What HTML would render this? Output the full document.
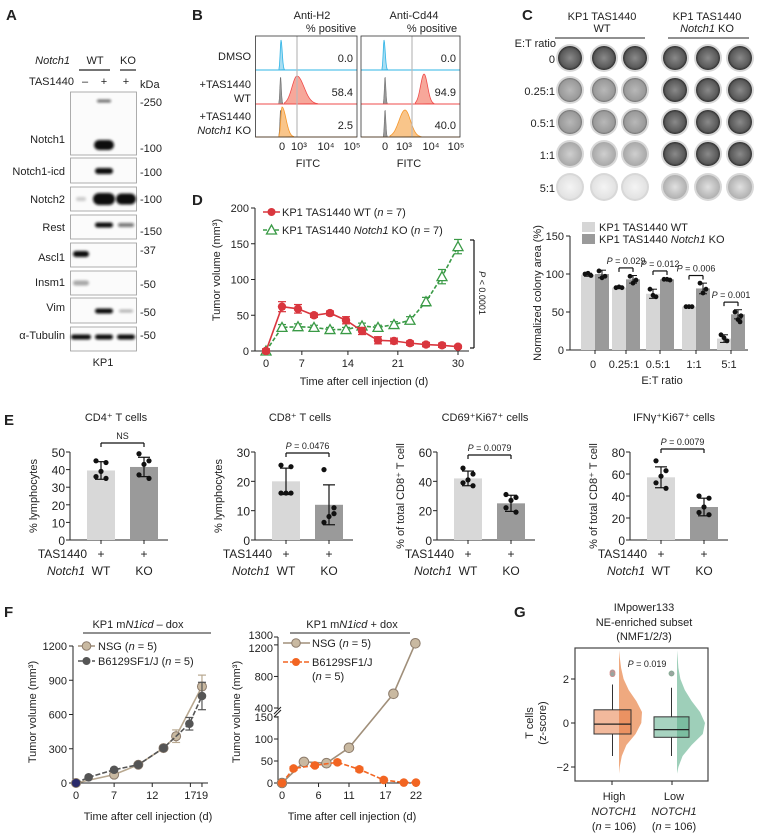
<!DOCTYPE html>
<html><head><meta charset="utf-8"><style>
html,body{margin:0;padding:0;background:#fff}
svg{display:block;font-family:"Liberation Sans",Arial,sans-serif}
</style></head><body>
<svg id="fig" width="764" height="840" viewBox="0 0 764 840" xmlns="http://www.w3.org/2000/svg">
<defs>
<filter id="blur1" x="-50%" y="-100%" width="200%" height="300%"><feGaussianBlur stdDeviation="1.2"/></filter>
<radialGradient id="wellDark" cx="50%" cy="50%" r="50%"><stop offset="0" stop-color="#8a8a8a"/><stop offset="0.8" stop-color="#5a5a5a"/><stop offset="1" stop-color="#2e2e2e"/></radialGradient>
<radialGradient id="wellMid" cx="50%" cy="50%" r="50%"><stop offset="0" stop-color="#b8b8b8"/><stop offset="0.85" stop-color="#9a9a9a"/><stop offset="1" stop-color="#707070"/></radialGradient>
<radialGradient id="wellLight" cx="50%" cy="50%" r="50%"><stop offset="0" stop-color="#cfcfcf"/><stop offset="1" stop-color="#a8a8a8"/></radialGradient>
<radialGradient id="wellPale" cx="50%" cy="50%" r="50%"><stop offset="0" stop-color="#f4f4f4"/><stop offset="1" stop-color="#e2e2e2"/></radialGradient>
<radialGradient id="wellKO5" cx="50%" cy="50%" r="50%"><stop offset="0" stop-color="#e0e0e0"/><stop offset="1" stop-color="#b0b0b0"/></radialGradient>
</defs>
</svg>
<script>
// ===== DATA =====
// Panel C bar chart
const cCats=['0','0.25:1','0.5:1','1:1','5:1'];
const cWT=[99,82,74,57,15];
const cWTsd=[2,1,6,0.5,5];
const cKO=[100,93,93,81,47];
const cKOsd=[5,5,1,7,6];
const cWTdots=[[100,98,101],[82,82,83],[80,70,72],[57,57,57],[20,12,16]];
const cKOdots=[[104,97,95],[97,92,88],[93,92,93],[88,80,75],[50,45,40,37]];
const cPlabels=['','P = 0.029','P = 0.012','P = 0.006','P = 0.001'];
const cYticks=[0,50,100,150];
// Panel D
const dDays=[0,2.5,5,7.5,10,12.5,15,17.5,20,22.5,25,27.5,30];
const dWT=[0,62,59,50,53,43,28,15,14,11,9,8,6];
const dWTerr=[3,7,6,3,3,5,5,5,4,3,3,3,2];
const dKO=[0,33,34,33,30,30,35,33,37,43,69,104,146];
const dKOerr=[3,4,4,3,3,3,4,3,4,5,6,10,10];
const dXtickVals=[0,5.6,12.8,20.6,30];
const dXtickLabels=['0','7','14','21','30'];
const dYticks=[0,50,100,150,200];
// Panel E
const eTitles=['CD4⁺ T cells','CD8⁺ T cells','CD69⁺Ki67⁺ cells','IFNγ⁺Ki67⁺ cells'];
const eYlabels=['% lymphocytes','% lymphocytes','% of total CD8⁺ T cell','% of total CD8⁺ T cell'];
const eWT=[39.5,20,42,57];
const eKO=[41.5,12,25,30];
const eWTsd=[5,4.5,5,9.5];
const eKOsd=[5.5,6.8,5.5,8];
const eWTdots=[[45,44,39,36,35],[25.5,25,16,16,16],[49,45,41,39,37],[72,63,58,52,47]];
const eKOdots=[[49,45,43,37,35],[24,9,8,6,11],[31,29,27,22,19],[40,38,30,25,23]];
const eYmax=[50,30,60,80];
const eYstep=[10,10,20,20];
const ePlabels=['NS','<tspan font-style="italic">P</tspan> = 0.0476','<tspan font-style="italic">P</tspan> = 0.0079','<tspan font-style="italic">P</tspan> = 0.0079'];
// Panel F left
const f1NSGdays=[0,5.75,9.4,13.2,15.1,19];
const f1NSG=[0,73,160,306,410,845];
const f1NSGerr=[0,10,15,15,55,100];
const f1B6days=[0,1.9,5.75,9.4,13.2,17.1,19];
const f1B6=[0,50,116,160,306,519,762];
const f1B6err=[0,8,10,12,15,55,120];
const f1XtickVals=[0,5.75,11.5,17.25,19];
const f1XtickLabels=['0','7','12','17','19'];
const f1Yticks=[0,300,600,900,1200];
// Panel F right
const f2NSGdays=[0,3.6,7.3,11,18.3,21.9];
const f2NSG=[0,48,45,80,580,1220];
const f2ORdays=[0,1.9,5.4,9.1,12.7,16.7,20,22];
const f2OR=[0,33,40,47,31,7,1,1];
const f2ORerr=[2,4,4,4,5,4,2,2];
const f2Xticks=[0,6,11,17,22];
const f2Yticks=[0,50,100,150,400,800,1200,1300];
// Panel G
const gGroups=['High','Low'];
const gQ1=[-0.5,-0.65];
const gMed=[-0.05,-0.3];
const gQ3=[0.6,0.28];
const gWlo=[-1.5,-1.5];
const gWhi=[1.75,1.6];
const gOutliers=[[2.3,2.22],[2.25]];
const gZ=[-2.3,-2,-1.5,-1,-0.5,0,0.5,1,1.5,2,2.5,3,3.3];
const gHighDens=[0,0.03,0.12,0.32,0.72,0.97,1,0.75,0.42,0.2,0.09,0.03,0];
const gLowDens=[0,0.05,0.2,0.52,0.92,1,0.82,0.52,0.28,0.12,0.05,0.02,0];
const gYticks=[-2,0,2];

// ===== HELPERS =====
const NS='http://www.w3.org/2000/svg';
const svg=document.getElementById('fig');
function mk(tag,attrs,name){
  const e=document.createElementNS(NS,tag);
  for(const k in attrs) e.setAttribute(k,attrs[k]);
  
  
  svg.appendChild(e);
  return e;
}
function T(x,y,s,o,name){
  o=o||{};
  const t=mk('text',{x:x,y:y,'font-size':o.fs||11,'text-anchor':o.a||'start',fill:o.f||'#222'},name);
  if(o.i) t.setAttribute('font-style','italic');
  if(o.b) t.setAttribute('font-weight','bold');
  if(o.ff) t.setAttribute('font-family',o.ff);
  if(o.r) t.setAttribute('transform','rotate('+o.r+' '+x+' '+y+')');
  t.innerHTML=s;
  return t;
}
function L(x1,y1,x2,y2,c,w,name,dash){
  const l=mk('line',{x1:x1,y1:y1,x2:x2,y2:y2,stroke:c||'#222','stroke-width':w||1},name);
  if(dash) l.setAttribute('stroke-dasharray',dash);
  return l;
}
const NAR='"Liberation Sans Narrow","Liberation Sans",Arial,sans-serif';
const IT=s=>'<tspan font-style="italic">'+s+'</tspan>';

// ===== PANEL LABELS =====
T(6,20,'A',{fs:15,b:1},'panel-label-a');
T(192,20,'B',{fs:15,b:1},'panel-label-b');
T(132,20,'',{},'spacer');
T(134,20,'',{},'spacer');
T(134,20,'',{},'spacer');
T(522,20,'C',{fs:15,b:1},'panel-label-c');
T(192,205,'D',{fs:15,b:1},'panel-label-d');
T(4,425,'E',{fs:15,b:1},'panel-label-e');
T(4,617,'F',{fs:15,b:1},'panel-label-f');
T(514,617,'G',{fs:15,b:1},'panel-label-g');

// ===== PANEL A (western blot) =====
T(70,64,'Notch1',{fs:11,a:'end',i:1},'blot-genotype-label');
T(95,64,'WT',{fs:11,a:'middle'},'blot-wt-header');
T(128,64,'KO',{fs:11,a:'middle'},'blot-ko-header');
L(79,70,110,70,'#222',1.2,'blot-wt-underline');
L(120,70,136,70,'#222',1.2,'blot-ko-underline');
T(74,85,'TAS1440',{fs:11,a:'end'},'blot-treatment-label');
T(85,85,'–',{fs:11,a:'middle'},'lane1-treatment');
T(104,85,'+',{fs:11,a:'middle'},'lane2-treatment');
T(126,85,'+',{fs:11,a:'middle'},'lane3-treatment');
T(140,88,'kDa',{fs:11},'kda-header');
const blotRows=[['Notch1',92,155,143],['Notch1-icd',158,183,175],['Notch2',187,211,203],['Rest',215,239,231],['Ascl1',243,267,261],['Insm1',271,295,286],['Vim',298,323,311],['α-Tubulin',327,351,339]];
blotRows.forEach(r=>{
  mk('rect',{x:70.5,y:r[1],width:66,height:r[2]-r[1],fill:'#fbfbfb',stroke:'#999','stroke-width':0.8},'blot-box-'+r[0]);
  T(65,r[3],r[0],{fs:11,a:'end'},'blot-label-'+r[0]);
});
const kda=[['-250',106],['-100',152],['-100',176],['-100',203],['-150',235],['-37',254],['-50',288],['-50',316],['-50',339]];
kda.forEach((k,i)=>T(140,k[1],k[0],{fs:11},'kda-marker'));
const bands=[[104,101,14,3,0.6],[104,145,20,10,1],[104,171,18,6,1],[81,199,10,4,0.2],[104,199,22,12,1],[126,199,20,11,1],[104,225,18,5,1],[126,225,16,4,0.55],[81,254,16,6,1],[81,283,16,5,0.35],[104,311,18,5,1],[126,311,14,3,0.3],[81,337,20,5,1],[104,337,18,5,1],[126,337,18,5,1]];
bands.forEach(b=>{
  mk('rect',{x:b[0]-b[2]/2,y:b[1]-b[3]/2,width:b[2],height:b[3],rx:b[3]/2,fill:'#111',opacity:b[4],filter:'url(#blur1)'},'blot-band');
});
T(103,366,'KP1',{fs:11,a:'middle'},'blot-cell-line-label');

// ===== PANEL B (flow histograms) =====
T(312,19,'Anti-H2',{fs:11,a:'middle'},'histo-title-h2');
T(331,32,'% positive',{fs:11,a:'middle'},'histo-subtitle-h2');
T(414,19,'Anti-Cd44',{fs:11,a:'middle'},'histo-title-cd44');
T(432,32,'% positive',{fs:11,a:'middle'},'histo-subtitle-cd44');
T(251,60,'DMSO',{fs:11,a:'end'},'row-label-dmso');
T(251,88,'+TAS1440',{fs:11,a:'end'},'row-label-wt-1');
T(251,102,'WT',{fs:11,a:'end'},'row-label-wt-2');
T(251,120,'+TAS1440',{fs:11,a:'end'},'row-label-ko-1');
T(251,134,IT('Notch1')+' KO',{fs:11,a:'end'},'row-label-ko-2');
function peak(cx,base,h,wl,wr){
  let d='M'+(cx-wl*2.5)+' '+base;
  for(let x=cx-wl*2.5;x<=cx+wr*3;x+=0.5){
    const w=x<cx?wl:wr;const y=base-h*Math.exp(-0.5*Math.pow((x-cx)/w,2));
    d+=' L'+x.toFixed(1)+' '+y.toFixed(1);
  }
  return d+' Z';
}
const hBoxes=[[255.5,357],[361,460]];
const hVals=[['0.0','58.4','2.5'],['0.0','94.9','40.0']];
const hGray=[297,412];
const rowsB=[[36,70],[70,104],[104,137]];
const hPeaks=[
  [[281,30,0.8,1.2,'#2fb4e6','#a8def3'],[297,28,5,7,'#ef4b4b','#f7a79a'],[282,30,1.2,4,'#f5962a','#f9c58a']],
  [[384,30,0.8,1.2,'#2fb4e6','#a8def3'],[424,30,3.5,3.5,'#ef4b4b','#f7a79a'],[405,27,6,5.5,'#f5962a','#f9c58a']]
];
hBoxes.forEach((bx,j)=>{
  rowsB.forEach((r,i)=>{
    const p=hPeaks[j][i];
    if(i>0) mk('path',{d:peak(bx[0]+25-(j?1:0)*0+ (j?-1:0),r[1],28,0.7,0.8),fill:'#999',stroke:'#666','stroke-width':0.5},'isotype-control-peak');
    mk('path',{d:peak(p[0],r[1],p[1],p[2],p[3]),fill:p[5],stroke:p[4],'stroke-width':0.8},'histogram-peak');
    L(bx[0],r[1],bx[1],r[1],p[4],1,'histogram-baseline');
    T(bx[1]-4,r[1]-8,hVals[j][i],{fs:11,a:'end'},'percent-positive-value');
  });
  L(hGray[j],36,hGray[j],137,'#bbb',1.2,'gate-line');
  mk('rect',{x:bx[0],y:36,width:bx[1]-bx[0],height:101,fill:'none',stroke:'#333','stroke-width':0.8},'histogram-frame');
});
[[282,299,326,352],[385,404,431,456]].forEach((xs,j)=>{
  ['0','10³','10⁴','10⁵'].forEach((s,i)=>T(xs[i],150,s,{fs:11,a:'middle'},'fitc-tick-label'));
});
T(308,167,'FITC',{fs:11,a:'middle'},'fitc-axis-title-h2');
T(409,167,'FITC',{fs:11,a:'middle'},'fitc-axis-title-cd44');

// ===== PANEL C (wells) =====
T(602,20,'KP1 TAS1440',{fs:11,a:'middle'},'wells-header-wt-1');
T(602,32,'WT',{fs:11,a:'middle'},'wells-header-wt-2');
T(707,20,'KP1 TAS1440',{fs:11,a:'middle'},'wells-header-ko-1');
T(707,32,IT('Notch1')+' KO',{fs:11,a:'middle'},'wells-header-ko-2');
L(555,38,645,38,'#222',1,'wells-wt-underline');
L(668,38,749,38,'#222',1,'wells-ko-underline');
T(556,47,'E:T ratio',{fs:11,a:'end'},'et-ratio-label');
const wellCols=[570,604,635,675,708,740];
const wellRows=[58,90,122,154,187];
const wellFill=[['wellDark','wellDark'],['wellMid','wellDark'],['wellMid','wellDark'],['wellLight','wellDark'],['wellPale','wellKO5']];
wellRows.forEach((wy,i)=>{
  T(555,wy+5,cCats[i],{fs:11,a:'end'},'well-row-label');
  wellCols.forEach((wx,j)=>{
    mk('circle',{cx:wx,cy:wy,r:14,fill:'#d8d8d8'},'well-rim');
    mk('circle',{cx:wx,cy:wy,r:12,fill:'url(#'+wellFill[i][j<3?0:1]+')'},'well');
  });
});

// ===== PANEL C bar chart =====
const cy=v=>350-v*0.76;
const cx0=[595,626,660,696,731];
L(570,236,570,350,'#222',1,'c-y-axis');
L(570,350,748,350,'#222',1,'c-x-axis');
cYticks.forEach(v=>{L(566,cy(v),570,cy(v),'#222',1,'c-y-tick');T(564,cy(v)+4,String(v),{fs:11,a:'end'},'c-y-tick-label');});
cCats.forEach((c,i)=>{
  const x=cx0[i];
  L(x,350,x,354,'#222',1,'c-x-tick');
  T(x-2,368,c,{fs:11,a:'middle'},'c-x-tick-label');
  mk('rect',{x:x-14,y:cy(cWT[i]),width:14,height:cWT[i]*0.76,fill:'#d6d6d6'},'c-bar-wt');
  mk('rect',{x:x,y:cy(cKO[i]),width:14,height:cKO[i]*0.76,fill:'#9a9a9a'},'c-bar-ko');
  [[x-7,cWT[i],cWTsd[i],cWTdots[i]],[x+7,cKO[i],cKOsd[i],cKOdots[i]]].forEach(g=>{
    L(g[0],cy(g[1]+g[2]),g[0],cy(g[1]-g[2]),'#111',1,'c-error-bar');
    L(g[0]-4,cy(g[1]+g[2]),g[0]+4,cy(g[1]+g[2]),'#111',1,'c-error-cap');
    L(g[0]-4,cy(g[1]-g[2]),g[0]+4,cy(g[1]-g[2]),'#111',1,'c-error-cap');
    g[3].forEach((v,k)=>mk('circle',{cx:g[0]+[-3,3,0,2][k],cy:cy(v),r:2.4,fill:'#111'},'c-dot'));
  });
  if(cPlabels[i]){
    const top=Math.max(cKO[i]+cKOsd[i],Math.max.apply(null,cKOdots[i]),cWT[i]+cWTsd[i]);
    const by=cy(top+10);
    L(x-7,by,x+7,by,'#111',1.2,'c-p-bracket');
    L(x-7,by,x-7,by+4,'#111',1.2,'c-p-bracket');
    L(x+7,by,x+7,by+4,'#111',1.2,'c-p-bracket');
    T(x,by-4,cPlabels[i].replace('P','<tspan font-style="italic">P</tspan>'),{fs:9,a:'middle'},'c-p-value');
  }
});
mk('rect',{x:582,y:222,width:13,height:10,fill:'#d6d6d6'},'c-legend-swatch-wt');
mk('rect',{x:582,y:234,width:13,height:10,fill:'#9a9a9a'},'c-legend-swatch-ko');
T(599,231,'KP1 TAS1440 WT',{fs:11},'c-legend-wt');
T(599,243,'KP1 TAS1440 '+IT('Notch1')+' KO',{fs:11},'c-legend-ko');
T(541,293,'Normalized colony area (%)',{fs:11,a:'middle',r:-90},'c-y-axis-title');
T(662,384,'E:T ratio',{fs:11,a:'middle'},'c-x-axis-title');

// ===== PANEL D =====
const dx=d=>266+d*6.4;
const dy=v=>351-v*0.715;
L(255,208,255,351,'#222',1,'d-y-axis');
L(255,351,469,351,'#222',1,'d-x-axis');
dYticks.forEach(v=>{L(251,dy(v),255,dy(v),'#222',1,'d-y-tick');T(249,dy(v)+4,String(v),{fs:11,a:'end'},'d-y-tick-label');});
dXtickVals.forEach((v,i)=>{L(dx(v),351,dx(v),355,'#222',1,'d-x-tick');T(dx(v),367,dXtickLabels[i],{fs:11,a:'middle'},'d-x-tick-label');});
function series(xs,ys,errs,xf,yf,color,dash,marker,name){
  mk('polyline',{points:xs.map((x,i)=>xf(x)+','+yf(ys[i])).join(' '),fill:'none',stroke:color,'stroke-width':1.6,'stroke-dasharray':dash||'none'},name+'-line');
  xs.forEach((x,i)=>{
    const X=xf(x),Y=yf(ys[i]);
    if(errs&&errs[i]){
      L(X,yf(ys[i]+errs[i]),X,yf(ys[i]-errs[i]),color,1.2,name+'-error');
      L(X-4,yf(ys[i]+errs[i]),X+4,yf(ys[i]+errs[i]),color,1.2,name+'-error-cap');
      L(X-4,yf(ys[i]-errs[i]),X+4,yf(ys[i]-errs[i]),color,1.2,name+'-error-cap');
    }
    marker(X,Y);
  });
}
series(dDays,dKO,dKOerr,dx,dy,'#3a9a46','4,2',(X,Y)=>mk('path',{d:'M'+X+' '+(Y-5)+' L'+(X+5)+' '+(Y+4)+' L'+(X-5)+' '+(Y+4)+' Z',fill:'#fff',stroke:'#3a9a46','stroke-width':1.3},'d-ko-point'),'d-ko');
series(dDays,dWT,dWTerr,dx,dy,'#d9363e',null,(X,Y)=>mk('circle',{cx:X,cy:Y,r:4.2,fill:'#d9363e'},'d-wt-point'),'d-wt');
L(263,212,280,212,'#d9363e',1.6,'d-legend-line-wt');
mk('circle',{cx:271.5,cy:212,r:4,fill:'#d9363e'},'d-legend-marker-wt');
L(263,230,280,230,'#3a9a46',1.6,'d-legend-line-ko','4,2');
mk('path',{d:'M271.5 225 L276.5 234 L266.5 234 Z',fill:'#fff',stroke:'#3a9a46','stroke-width':1.3},'d-legend-marker-ko');
T(282,216,'KP1 TAS1440 WT ('+IT('n')+' = 7)',{fs:11},'d-legend-wt');
T(282,234,'KP1 TAS1440 '+IT('Notch1')+' KO ('+IT('n')+' = 7)',{fs:11},'d-legend-ko');
L(470,240,474,240,'#111',1.2,'d-bracket');L(474,240,474,348,'#111',1.2,'d-bracket');L(470,348,474,348,'#111',1.2,'d-bracket');
T(479,293,IT('P')+' &lt; 0.0001',{fs:9,a:'middle',r:90},'d-p-value');
T(220,270,'Tumor volume (mm³)',{fs:11,a:'middle',r:-90},'d-y-axis-title');
T(364,385,'Time after cell injection (d)',{fs:11,a:'middle'},'d-x-axis-title');

// ===== PANEL E =====
const eAxisX=[70,255,437,630];
const eBrY=[443,453,455,449];
const eTitleX=[116,300,485,674];
eAxisX.forEach((ax,c)=>{
  const ey=v=>540-v*(88/eYmax[c]);
  T(eTitleX[c],421,eTitles[c],{fs:11,a:'middle'},'e-chart-title');
  L(ax,452,ax,540,'#222',1,'e-y-axis');
  L(ax,540,ax+98,540,'#222',1,'e-x-axis');
  for(let v=0;v<=eYmax[c];v+=eYstep[c]){L(ax-4,ey(v),ax,ey(v),'#222',1,'e-y-tick');T(ax-5,ey(v)+5,String(v),{fs:12,a:'end',ff:NAR},'e-y-tick-label');}
  T(ax-33,496,eYlabels[c],{fs:11,a:'middle',r:-90},'e-y-axis-title');
  const wx=ax+31,kx=ax+74;
  mk('rect',{x:wx-14,y:ey(eWT[c]),width:28,height:540-ey(eWT[c]),fill:'#d8d8d8'},'e-bar-wt');
  mk('rect',{x:kx-14,y:ey(eKO[c]),width:28,height:540-ey(eKO[c]),fill:'#9a9a9a'},'e-bar-ko');
  [[wx,eWT[c],eWTsd[c],eWTdots[c]],[kx,eKO[c],eKOsd[c],eKOdots[c]]].forEach(g=>{
    L(g[0],ey(g[1]+g[2]),g[0],ey(g[1]-g[2]),'#111',1.2,'e-error-bar');
    L(g[0]-6,ey(g[1]+g[2]),g[0]+6,ey(g[1]+g[2]),'#111',1.2,'e-error-cap');
    L(g[0]-6,ey(g[1]-g[2]),g[0]+6,ey(g[1]-g[2]),'#111',1.2,'e-error-cap');
    g[3].forEach((v,k)=>mk('circle',{cx:g[0]+[-5,5,0,-5,5][k],cy:ey(v),r:2.6,fill:'#111'},'e-dot'));
    L(g[0],540,g[0],544,'#222',1,'e-x-tick');
  });
  L(wx,eBrY[c],kx,eBrY[c],'#111',1.2,'e-p-bracket');
  L(wx,eBrY[c],wx,eBrY[c]+4,'#111',1.2,'e-p-bracket');
  L(kx,eBrY[c],kx,eBrY[c]+4,'#111',1.2,'e-p-bracket');
  T((wx+kx)/2,eBrY[c]-4,ePlabels[c],{fs:9,a:'middle',ff:NAR},'e-p-value');
  T(wx-14,558,'TAS1440',{fs:12,a:'end',ff:NAR},'e-treatment-label');
  T(wx,558,'+',{fs:12,a:'middle',ff:NAR},'e-treatment-wt');
  T(kx,558,'+',{fs:12,a:'middle',ff:NAR},'e-treatment-ko');
  T(wx-16,575,'Notch1',{fs:12,a:'end',i:1,ff:NAR},'e-genotype-label');
  T(wx,575,'WT',{fs:12,a:'middle',ff:NAR},'e-genotype-wt');
  T(kx,575,'KO',{fs:12,a:'middle',ff:NAR},'e-genotype-ko');
});

// ===== PANEL F left =====
const f1x=d=>76+d*6.63;
const f1y=v=>783-v*(137/1200);
T(138,628,'KP1 m'+IT('N1icd')+' – dox',{fs:11,a:'middle',ff:NAR},'f1-header');
L(83,633,211,633,'#222',1,'f1-header-line');
L(73,646,73,783,'#222',1,'f1-y-axis');
L(73,783,208,783,'#222',1,'f1-x-axis');
f1Yticks.forEach(v=>{L(69,f1y(v),73,f1y(v),'#222',1,'f1-y-tick');T(67,f1y(v)+4,String(v),{fs:11,a:'end'},'f1-y-tick-label');});
f1XtickVals.forEach((v,i)=>{L(f1x(v),783,f1x(v),787,'#222',1,'f1-x-tick');T(f1x(v),799,f1XtickLabels[i],{fs:11,a:'middle'},'f1-x-tick-label');});
series(f1NSGdays,f1NSG,f1NSGerr,f1x,f1y,'#b8a890',null,(X,Y)=>mk('circle',{cx:X,cy:Y,r:4.5,fill:'#c9b9a1',stroke:'#8c7b6b','stroke-width':1},'f1-nsg-point'),'f1-nsg');
series(f1B6days,f1B6,f1B6err,f1x,f1y,'#555','5,2',(X,Y)=>mk('circle',{cx:X,cy:Y,r:4.3,fill:'#555'},'f1-b6-point'),'f1-b6');
mk('circle',{cx:f1x(0),cy:f1y(0),r:4,fill:'#2a2a6a'},'f1-origin-point');
L(78,646,95,646,'#a08f7a',1.6,'f1-legend-line-nsg');mk('circle',{cx:86.5,cy:646,r:4.3,fill:'#c9b9a1',stroke:'#8c7b6b'},'f1-legend-marker-nsg');
L(78,661,95,661,'#555',1.6,'f1-legend-line-b6','5,2');mk('circle',{cx:86.5,cy:661,r:4,fill:'#555'},'f1-legend-marker-b6');
T(98,650,'NSG ('+IT('n')+' = 5)',{fs:11},'f1-legend-nsg');
T(98,665,'B6129SF1/J ('+IT('n')+' = 5)',{fs:11},'f1-legend-b6');
T(36,712,'Tumor volume (mm³)',{fs:11,a:'middle',r:-90},'f1-y-axis-title');
T(148,820,'Time after cell injection (d)',{fs:11,a:'middle',ff:NAR},'f1-x-axis-title');

// ===== PANEL F right =====
const f2x=d=>282+d*6.09;
const f2y=v=>v<=150?783-v*0.44:708-(v-400)*0.0789;
T(352,628,'KP1 m'+IT('N1icd')+' + dox',{fs:11,a:'middle',ff:NAR},'f2-header');
L(290,633,410,633,'#222',1,'f2-header-line');
L(278,637,278,709,'#222',1,'f2-y-axis-upper');
L(278,716,278,783,'#222',1,'f2-y-axis-lower');
L(274,714,281,707,'#222',1,'f2-axis-break');L(274,717,281,710,'#222',1,'f2-axis-break');
L(278,783,420,783,'#222',1,'f2-x-axis');
f2Yticks.forEach((v,i)=>{L(274,f2y(v),278,f2y(v),'#222',1,'f2-y-tick');T(273,f2y(v)+(v===1300?2:4)+(v===1200?3:0),String(v),{fs:11,a:'end'},'f2-y-tick-label');});
f2Xticks.forEach(v=>{L(f2x(v),783,f2x(v),787,'#222',1,'f2-x-tick');T(f2x(v),799,String(v),{fs:11,a:'middle'},'f2-x-tick-label');});
series(f2NSGdays,f2NSG,null,f2x,f2y,'#a08f7a',null,(X,Y)=>mk('circle',{cx:X,cy:Y,r:4.8,fill:'#c9b9a1',stroke:'#8c7b6b','stroke-width':1},'f2-nsg-point'),'f2-nsg');
series(f2ORdays,f2OR,f2ORerr,f2x,f2y,'#f26522','5,2',(X,Y)=>mk('circle',{cx:X,cy:Y,r:4.3,fill:'#f26522'},'f2-b6-point'),'f2-b6');
L(283,643,310,643,'#a08f7a',1.6,'f2-legend-line-nsg');mk('circle',{cx:296,cy:643,r:4.3,fill:'#c9b9a1',stroke:'#8c7b6b'},'f2-legend-marker-nsg');
L(283,662,310,662,'#f26522',1.6,'f2-legend-line-b6','5,2');mk('circle',{cx:296,cy:662,r:4,fill:'#f26522'},'f2-legend-marker-b6');
T(312,647,'NSG ('+IT('n')+' = 5)',{fs:11},'f2-legend-nsg');
T(312,666,'B6129SF1/J',{fs:11},'f2-legend-b6');
T(312,680,'('+IT('n')+' = 5)',{fs:11},'f2-legend-b6-n');
T(240,712,'Tumor volume (mm³)',{fs:11,a:'middle',r:-90},'f2-y-axis-title');
T(352,820,'Time after cell injection (d)',{fs:11,a:'middle',ff:NAR},'f2-x-axis-title');

// ===== PANEL G =====
const gy=z=>723-z*22;
T(644,611,'IMpower133',{fs:11,a:'middle'},'g-title-1');
T(644,626,'NE-enriched subset',{fs:11,a:'middle'},'g-title-2');
T(644,640,'(NMF1/2/3)',{fs:11,a:'middle'},'g-title-3');
const gBox=[[594,631,619,23,'#e8804a','#ec9a68'],[654,689,677,28,'#5fae8c','#8dc7ad']];
const gDens=[gHighDens,gLowDens];
gBox.forEach((b,i)=>{
  const cxm=(b[0]+b[1])/2;
  L(cxm,gy(gWlo[i]),cxm,gy(gQ1[i]),'#333',1,'g-whisker');
  L(cxm,gy(gQ3[i]),cxm,gy(gWhi[i]),'#333',1,'g-whisker');
  let d='M'+b[2]+' '+gy(gZ[0]);
  gZ.forEach((z,k)=>{d+=' L'+(b[2]+gDens[i][k]*b[3]).toFixed(1)+' '+gy(z).toFixed(1);});
  d+=' Z';
  mk('path',{d:d,fill:b[5],opacity:0.85},'g-half-violin');
  mk('rect',{x:b[0],y:gy(gQ3[i]),width:b[1]-b[0],height:gy(gQ1[i])-gy(gQ3[i]),fill:b[4],'fill-opacity':0.55,stroke:'#333','stroke-width':1},'g-box');
  L(b[0],gy(gMed[i]),b[1],gy(gMed[i]),'#222',1.3,'g-median');
  gOutliers[i].forEach(z=>mk('circle',{cx:cxm,cy:gy(z),r:2.6,fill:'#9aa5a0',stroke:i?'#7a8':'#d88','stroke-width':0.6},'g-outlier'));
});
mk('rect',{x:575,y:648,width:133,height:133,fill:'none',stroke:'#444','stroke-width':1.2},'g-frame');
gYticks.forEach(z=>{L(571,gy(z),575,gy(z),'#222',1,'g-y-tick');T(569,gy(z)+4,z<0?'−'+(-z):String(z),{fs:11,a:'end'},'g-y-tick-label');});
T(647,667,IT('P')+' = 0.019',{fs:9,a:'middle'},'g-p-value');
T(533,723,'T cells',{fs:11,a:'middle',r:-90},'g-y-axis-title-1');
T(546,723,'(z-score)',{fs:11,a:'middle',r:-90},'g-y-axis-title-2');
[612,672].forEach((x,i)=>{
  L(x,781,x,785,'#222',1,'g-x-tick');
  T(x+2,800,gGroups[i],{fs:11,a:'middle'},'g-group-label');
  T(x+2,815,'NOTCH1',{fs:11,a:'middle',i:1},'g-gene-label');
  T(x+2,830,'('+IT('n')+' = 106)',{fs:11,a:'middle'},'g-n-label');
});
</script>
</body></html>
